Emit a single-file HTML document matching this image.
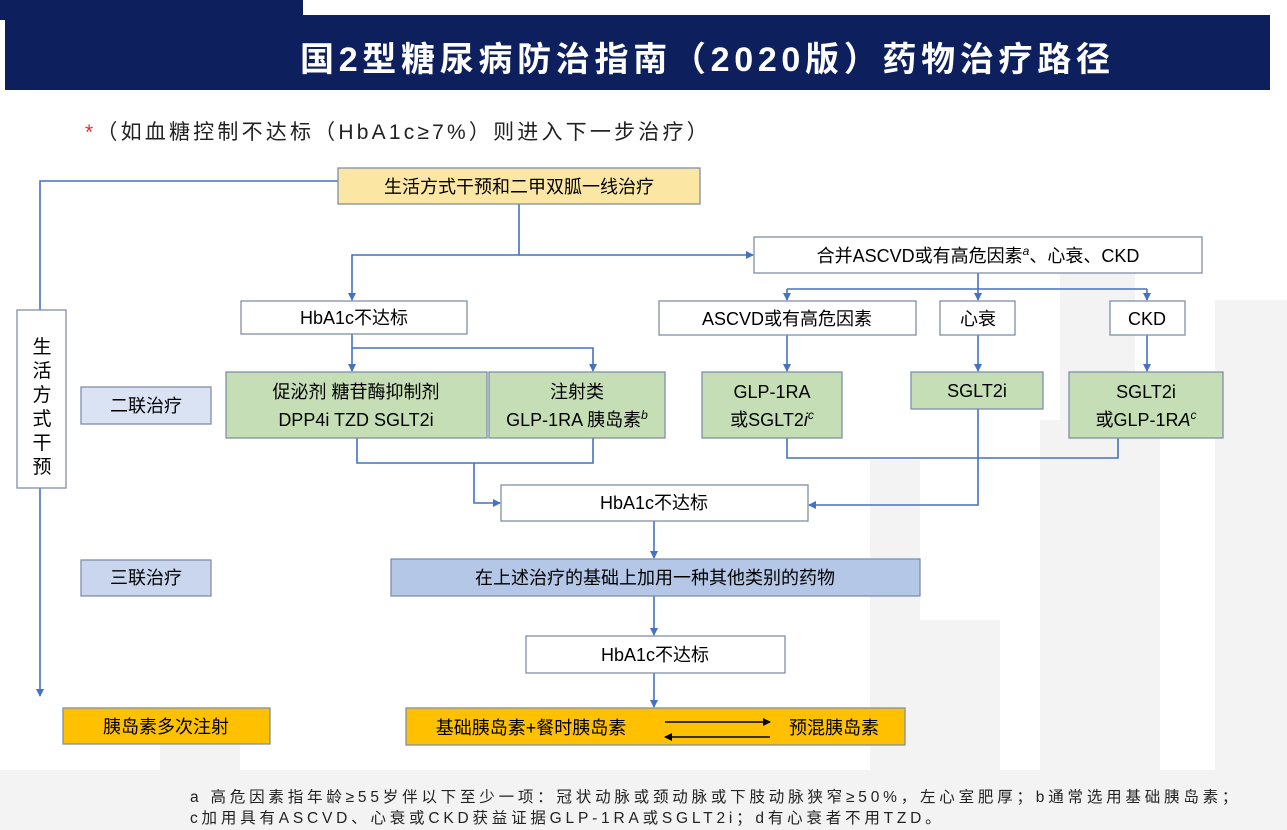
<!DOCTYPE html>
<html><head><meta charset="utf-8">
<style>
html,body{margin:0;padding:0;background:#fff;}
body{width:1287px;height:830px;position:relative;overflow:hidden;font-family:"Liberation Sans","Noto Sans CJK SC",sans-serif;}
svg{position:absolute;left:0;top:0;}
text{font-family:"Liberation Sans","Noto Sans CJK SC",sans-serif;}
</style></head><body>
<svg width="1287" height="830" viewBox="0 0 1287 830" xmlns="http://www.w3.org/2000/svg">
<defs>
<marker id="a" markerWidth="8" markerHeight="8" refX="7" refY="4" orient="auto" markerUnits="userSpaceOnUse"><path d="M0,0 L8,4 L0,8 z" fill="#4472c4"/></marker>
<marker id="k" markerWidth="8" markerHeight="8" refX="7" refY="4" orient="auto" markerUnits="userSpaceOnUse"><path d="M0,0 L8,4 L0,8 z" fill="#000"/></marker>
</defs>
<g fill="#f3f3f3">
<rect x="0" y="770" width="1287" height="60"/>
<rect x="1060" y="250" width="75" height="580"/><rect x="1040" y="420" width="120" height="410"/>
<rect x="1215" y="300" width="72" height="530"/>
<rect x="880" y="620" width="120" height="210"/><rect x="870" y="460" width="50" height="370"/>
<rect x="160" y="720" width="80" height="110"/>
</g>
<rect x="0" y="0" width="303" height="20" fill="#0d1f5c"/>
<rect x="5" y="15" width="1265" height="75" fill="#0d1f5c"/>
<text x="300" y="71" fill="#fff" font-size="34" font-weight="bold" letter-spacing="4.7">国2型糖尿病防治指南（2020版）药物治疗路径</text>
<text x="85" y="139" font-size="21" fill="#222" letter-spacing="3.2"><tspan fill="#e03030">*</tspan>（如血糖控制不达标（HbA1c≥7%）则进入下一步治疗）</text>

<g stroke="#4472c4" stroke-width="1.6" fill="none">
<polyline points="338,181 40,181 40,310"/>
<line x1="40" y1="488" x2="40" y2="696" marker-end="url(#a)"/>
<polyline points="519,204 519,255 352,255 352,300" marker-end="url(#a)"/>
<line x1="519" y1="255" x2="753" y2="255" marker-end="url(#a)"/>
<polyline points="978,273 978,289"/>
<line x1="787" y1="289" x2="1147" y2="289"/>
<line x1="787" y1="289" x2="787" y2="300" marker-end="url(#a)"/>
<line x1="978" y1="289" x2="978" y2="300" marker-end="url(#a)"/>
<line x1="1147" y1="289" x2="1147" y2="300" marker-end="url(#a)"/>
<line x1="352" y1="334" x2="352" y2="371" marker-end="url(#a)"/>
<polyline points="352,348 593,348 593,371" marker-end="url(#a)"/>
<line x1="787" y1="335" x2="787" y2="371" marker-end="url(#a)"/>
<line x1="978" y1="335" x2="978" y2="371" marker-end="url(#a)"/>
<line x1="1147" y1="335" x2="1147" y2="371" marker-end="url(#a)"/>
<polyline points="357,438 357,463 593,463 593,438"/>
<polyline points="474,463 474,503 500,503" marker-end="url(#a)"/>
<polyline points="787,438 787,458 1118,458 1118,438"/>
<polyline points="978,409 978,505 809,505" marker-end="url(#a)"/>
<line x1="654" y1="521" x2="654" y2="558" marker-end="url(#a)"/>
<line x1="654" y1="596" x2="654" y2="635" marker-end="url(#a)"/>
<line x1="654" y1="673" x2="654" y2="707" marker-end="url(#a)"/>
</g>

<g stroke="#7f8fa8" stroke-width="1.3" fill="#000">
<rect x="338" y="168" width="362" height="36" fill="#fce6a4"/>
<rect x="754" y="237" width="448" height="36" fill="#fff"/>
<rect x="241" y="301" width="226" height="33" fill="#fff"/>
<rect x="659" y="301" width="257" height="34" fill="#fff"/>
<rect x="940" y="301" width="75" height="34" fill="#fff"/>
<rect x="1110" y="301" width="75" height="34" fill="#fff"/>
<rect x="226" y="372" width="261" height="66" fill="#c5deb5"/>
<rect x="489" y="372" width="176" height="66" fill="#c5deb5"/>
<rect x="702" y="372" width="140" height="66" fill="#c5deb5"/>
<rect x="911" y="372" width="132" height="37" fill="#c5deb5"/>
<rect x="1069" y="372" width="154" height="66" fill="#c5deb5"/>
<rect x="81" y="387" width="130" height="37" fill="#dae3f3"/>
<rect x="17" y="310" width="49" height="178" fill="#fff"/>
<rect x="501" y="485" width="307" height="36" fill="#fff"/>
<rect x="81" y="560" width="130" height="36" fill="#c9d6ee"/>
<rect x="391" y="559" width="529" height="37" fill="#b4c7e7"/>
<rect x="526" y="636" width="259" height="37" fill="#fff"/>
<rect x="63" y="708" width="207" height="36" fill="#ffc000"/>
<rect x="406" y="708" width="499" height="37" fill="#ffc000"/>
</g>
<g font-size="18" text-anchor="middle" fill="#000">
<text x="519" y="193">生活方式干预和二甲双胍一线治疗</text>
<text x="978" y="262">合并ASCVD或有高危因素<tspan font-style="italic" font-size="12" dy="-7">a</tspan><tspan dy="7">、心衰、CKD</tspan></text>
<text x="354" y="324">HbA1c不达标</text>
<text x="787" y="325">ASCVD或有高危因素</text>
<text x="978" y="325">心衰</text>
<text x="1147" y="325">CKD</text>
<text x="356" y="398">促泌剂 糖苷酶抑制剂</text>
<text x="356" y="426">DPP4i TZD SGLT2i</text>
<text x="577" y="398">注射类</text>
<text x="577" y="426">GLP-1RA 胰岛素<tspan font-style="italic" font-size="12" dy="-7">b</tspan></text>
<text x="772" y="398">GLP-1RA</text>
<text x="772" y="426">或SGLT2<tspan font-style="italic">i</tspan><tspan font-style="italic" font-size="12" dy="-7">c</tspan></text>
<text x="977" y="397">SGLT2i</text>
<text x="1146" y="398">SGLT2i</text>
<text x="1146" y="426">或GLP-1R<tspan font-style="italic">A</tspan><tspan font-style="italic" font-size="12" dy="-7">c</tspan></text>
<text x="146" y="412">二联治疗</text>
<text x="654" y="509">HbA1c不达标</text>
<text x="146" y="584">三联治疗</text>
<text x="655" y="584">在上述治疗的基础上加用一种其他类别的药物</text>
<text x="655" y="661">HbA1c不达标</text>
<text x="166" y="733">胰岛素多次注射</text>
<text x="531" y="734">基础胰岛素+餐时胰岛素</text>
<text x="834" y="734">预混胰岛素</text>
<g font-size="19"><text x="42" y="353">生</text><text x="42" y="377">活</text><text x="42" y="401">方</text><text x="42" y="425">式</text><text x="42" y="449">干</text><text x="42" y="473">预</text></g>
</g>
<line x1="665" y1="722" x2="770" y2="722" stroke="#000" stroke-width="1.5" marker-end="url(#k)"/>
<line x1="770" y1="737" x2="665" y2="737" stroke="#000" stroke-width="1.5" marker-end="url(#k)"/>
<g font-size="15.5" fill="#222" letter-spacing="3.8">
<text x="190" y="802">a 高危因素指年龄≥55岁伴以下至少一项：冠状动脉或颈动脉或下肢动脉狭窄≥50%，左心室肥厚；b通常选用基础胰岛素；</text>
<text x="190" y="823">c加用具有ASCVD、心衰或CKD获益证据GLP-1RA或SGLT2i；d有心衰者不用TZD。</text>
</g>
</svg>
</body></html>
